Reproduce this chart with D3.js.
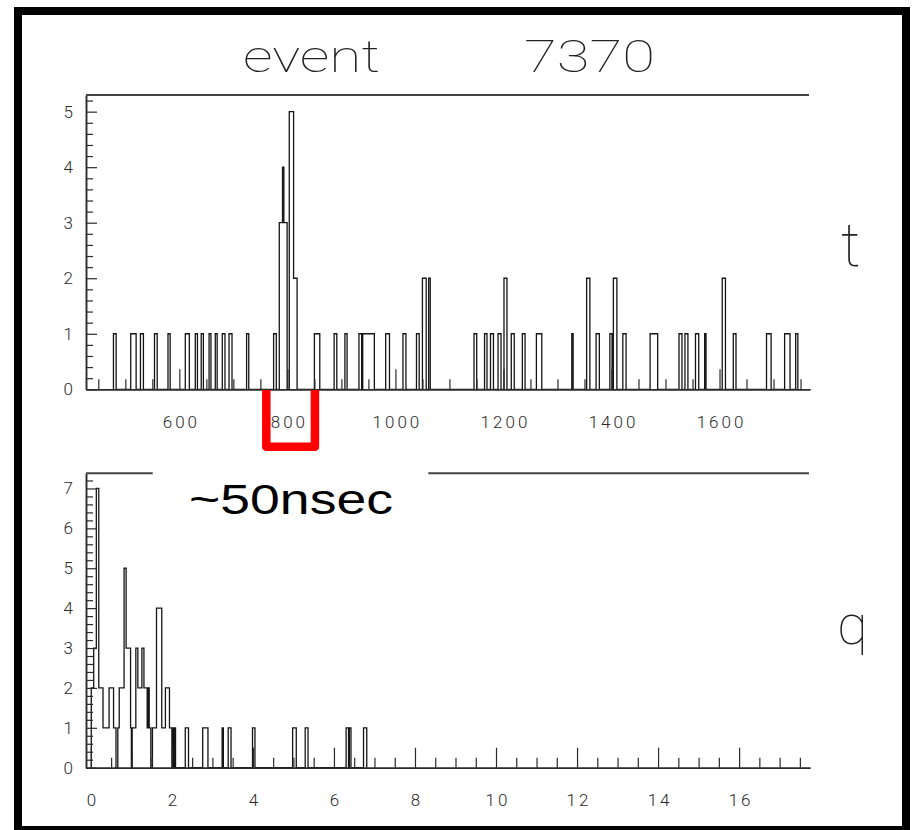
<!DOCTYPE html>
<html><head><meta charset="utf-8">
<script src="https://cdn.jsdelivr.net/npm/d3@7"></script>
<style>
html,body{margin:0;padding:0;background:#fff;}
svg{display:block;}
</style></head>
<body><svg id="c" width="920" height="830"></svg>
<script>
// ---------- data ----------
const titleWords = ["event", "7370"];
const panelLabels = ["t", "q"];
const annotation = "~50nsec";

// hit-time histogram (t): runs of bins [lo, hi) with their content
const tLo    = [478, 510, 528, 554, 579, 611, 629.5, 640.5, 655, 666.5, 679.5, 692, 724.5, 774.5, 785, 791, 793.5, 803.5, 811.5, 850, 886.5, 906.5, 932.5, 939.5, 982, 1014, 1039, 1050, 1061.5, 1145.5, 1165, 1176, 1190, 1201, 1214.5, 1235, 1261, 1326.5, 1354, 1371.5, 1397, 1403.5, 1421, 1471.5, 1525, 1536, 1555.5, 1572.5, 1605, 1625.5, 1687, 1720.5, 1741];
const tHi    = [483, 520, 533.5, 559, 583, 618.5, 633.5, 644.5, 658.5, 670, 684.5, 697.5, 728.5, 779.5, 791, 793.5, 799.5, 811.5, 818, 860, 891.5, 910.5, 937.5, 961, 989, 1019.5, 1044, 1057, 1064.5, 1150.5, 1169.5, 1181.5, 1195.5, 1206.5, 1220, 1240, 1271, 1329, 1360, 1377.5, 1401, 1410, 1427, 1485.5, 1530.5, 1541.5, 1561.5, 1575, 1611, 1630.5, 1695.5, 1730.5, 1745];
const tCount = [1, 1, 1, 1, 1, 1, 1, 1, 1, 1, 1, 1, 1, 1, 3, 4, 3, 5, 2, 1, 1, 1, 1, 1, 1, 1, 1, 2, 2, 1, 1, 1, 1, 2, 1, 1, 1, 1, 2, 1, 1, 2, 1, 1, 1, 1, 1, 1, 2, 1, 1, 1, 1];

// charge histogram (q)
const qLo    = [0.01, 0.07, 0.135, 0.195, 0.30, 0.45, 0.56, 0.665, 0.70, 0.82, 0.87, 0.98, 1.02, 1.11, 1.16, 1.26, 1.31, 1.39, 1.41, 1.44, 1.52, 1.62, 1.75, 1.84, 1.94, 2.02, 2.06, 2.33, 2.76, 3.24, 3.39, 3.99, 4.98, 5.29, 6.30, 6.38, 6.73];
const qHi    = [0.07, 0.135, 0.195, 0.30, 0.45, 0.56, 0.62, 0.70, 0.82, 0.87, 0.98, 1.00, 1.11, 1.16, 1.26, 1.31, 1.39, 1.41, 1.44, 1.48, 1.62, 1.75, 1.84, 1.94, 2.00, 2.04, 2.09, 2.41, 2.89, 3.27, 3.46, 4.05, 5.07, 5.36, 6.36, 6.42, 6.81];
const qCount = [2, 3, 7, 2, 1, 2, 1, 1, 2, 5, 3, 1, 1, 3, 2, 3, 2, 1, 2, 1, 1, 4, 1, 2, 1, 1, 1, 1, 1, 1, 1, 1, 1, 1, 1, 1, 1];

// axes
const tDomain = [427.2, 1767.5];
const qDomain = [-0.12, 17.75];
const tYMax = 5.3;
const qYMax = 7.38;
const tMajorTicks = [600, 800, 1000, 1200, 1400, 1600];
const tTickLabels = ["600", "800", "1000", "1200", "1400", "1600"];
const tMinorStep = 50;
const qMajorTicks = [0, 2, 4, 6, 8, 10, 12, 14, 16];
const qTickLabels = ["0", "2", "4", "6", "8", "10", "12", "14", "16"];
const qMinorStep = 0.5;
const tYMajor = [0, 1, 2, 3, 4, 5];
const tYTickLabels = ["0", "1", "2", "3", "4", "5"];
const qYMajor = [0, 1, 2, 3, 4, 5, 6, 7];
const qYTickLabels = ["0", "1", "2", "3", "4", "5", "6", "7"];
const yMinorStep = 0.2;
// ~50 ns window marked on the t axis
const windowT = [761, 851];

// ---------- drawing ----------
const svg = d3.select("#c");
const INK = "#2a2a2a";
const LABEL_FONT = "Roboto, 'DejaVu Sans', sans-serif";

svg.append("rect").attr("x", 0).attr("y", 0).attr("width", 920).attr("height", 830).attr("fill", "#fff");

function minorValues(domain, step, majors) {
  const out = [];
  const n0 = Math.ceil(domain[0] / step - 1e-9), n1 = Math.floor(domain[1] / step + 1e-9);
  for (let i = n0; i <= n1; i++) {
    const v = +(i * step).toFixed(6);
    if (!majors.some(m => Math.abs(m - v) < 1e-6)) out.push(v);
  }
  return out;
}

function stepPath(lo, hi, n, x, y) {
  let p = `M${x(lo[0])},${y(0)}`;
  let prev = null;
  for (let i = 0; i < lo.length; i++) {
    if (prev !== null && lo[i] - prev > 1e-9) p += `V${y(0)}H${x(lo[i])}`;
    p += `V${y(n[i])}H${x(hi[i])}`;
    prev = hi[i];
  }
  return p + `V${y(0)}`;
}

function styleAxis(g) {
  g.select(".domain").attr("stroke", INK).attr("stroke-width", 1.5);
  g.selectAll(".tick line").attr("stroke", INK).attr("stroke-width", 1.2);
  g.selectAll(".tick text").attr("fill", "#2a2a2a").attr("font-family", LABEL_FONT)
    .attr("font-weight", 300).attr("font-size", 17);
}

function panel(cfg) {
  const x = d3.scaleLinear().domain(cfg.xDomain).range([86, 810]);
  const y = d3.scaleLinear().domain([0, cfg.yMax]).range([cfg.y0, cfg.yTop]);
  const g = svg.append("g");

  g.append("path").attr("d", stepPath(cfg.lo, cfg.hi, cfg.n, x, y))
    .attr("fill", "none").attr("stroke", "#151515").attr("stroke-width", 1.3)
    .attr("stroke-linejoin", "miter");

  const xMin = g.append("g").attr("transform", `translate(0,${cfg.y0})`)
    .call(d3.axisBottom(x).tickValues(minorValues(cfg.xDomain, cfg.xMinorStep, cfg.xMajor))
      .tickSize(-10).tickSizeOuter(0).tickFormat(""));
  styleAxis(xMin);
  const xMaj = g.append("g").attr("transform", `translate(0,${cfg.y0})`)
    .call(d3.axisBottom(x).tickValues(cfg.xMajor).tickSize(-20).tickSizeOuter(0)
      .tickPadding(cfg.xPad).tickFormat((d, i) => cfg.xLabels[i]));
  styleAxis(xMaj);
  xMaj.selectAll(".tick text").attr("letter-spacing", "3px").attr("dx", "1.5px");

  const yMin = g.append("g").attr("transform", "translate(86,0)")
    .call(d3.axisLeft(y).tickValues(minorValues([0, cfg.yMax], yMinorStep, cfg.yMajor))
      .tickSize(-7).tickSizeOuter(0).tickFormat(""));
  styleAxis(yMin);
  const yMaj = g.append("g").attr("transform", "translate(86,0)")
    .call(d3.axisLeft(y).tickValues(cfg.yMajor).tickSize(-11).tickSizeOuter(0)
      .tickPadding(13).tickFormat((d, i) => cfg.yLabels[i]));
  styleAxis(yMaj);

  g.append("line").attr("x1", 86).attr("x2", 809).attr("y1", y(cfg.yMax)).attr("y2", y(cfg.yMax))
    .attr("stroke", "#444").attr("stroke-width", 2);

  g.append("text").attr("x", cfg.labelX).attr("y", cfg.labelY).text(cfg.label)
    .attr("font-family", LABEL_FONT).attr("font-weight", 100).attr("font-size", cfg.labelSize).attr("fill", "#222");
  return { x, y };
}

const tPanel = panel({
  xDomain: tDomain, yMax: tYMax, y0: 389.3, yTop: 95,
  lo: tLo, hi: tHi, n: tCount,
  xMajor: tMajorTicks, xLabels: tTickLabels, xMinorStep: tMinorStep, xPad: 27,
  yMajor: tYMajor, yLabels: tYTickLabels, label: panelLabels[0], labelX: 841, labelY: 266, labelSize: 62
});
const qPanel = panel({
  xDomain: qDomain, yMax: qYMax, y0: 767.7, yTop: 473.3,
  lo: qLo, hi: qHi, n: qCount,
  xMajor: qMajorTicks, xLabels: qTickLabels, xMinorStep: qMinorStep, xPad: 26,
  yMajor: qYMajor, yLabels: qYTickLabels, label: panelLabels[1], labelX: 837, labelY: 644, labelSize: 56
});

// title
svg.append("text").attr("x", 243).attr("y", 71.5).text(titleWords[0])
  .attr("font-family", LABEL_FONT).attr("font-weight", 100).attr("font-size", 44)
  .attr("textLength", 137).attr("lengthAdjust", "spacingAndGlyphs").attr("fill", "#222");
svg.append("text").attr("x", 524).attr("y", 71.5).text(titleWords[1])
  .attr("font-family", LABEL_FONT).attr("font-weight", 100).attr("font-size", 44)
  .attr("textLength", 131).attr("lengthAdjust", "spacingAndGlyphs").attr("fill", "#222");

// red bracket marking the ~50 ns window
const bL = tPanel.x(windowT[0]), bR = tPanel.x(windowT[1]);
svg.append("path")
  .attr("d", `M${bL},390V446.7H${bR}V390`)
  .attr("fill", "none").attr("stroke", "#ff0000").attr("stroke-width", 8.5)
  .attr("stroke-linejoin", "round");

// annotation text on white box
svg.append("rect").attr("x", 152.7).attr("y", 455).attr("width", 275.6).attr("height", 72).attr("fill", "#fff");
svg.append("text").attr("x", 189).attr("y", 514).text(annotation)
  .attr("font-family", "'Liberation Sans', Arial, sans-serif").attr("font-size", 43)
  .attr("textLength", 204).attr("lengthAdjust", "spacingAndGlyphs").attr("fill", "#000");

// outer picture frame
svg.append("rect").attr("x", 18).attr("y", 11).attr("width", 888).attr("height", 819)
  .attr("fill", "none").attr("stroke", "#000").attr("stroke-width", 8);
</script>
</body></html>
